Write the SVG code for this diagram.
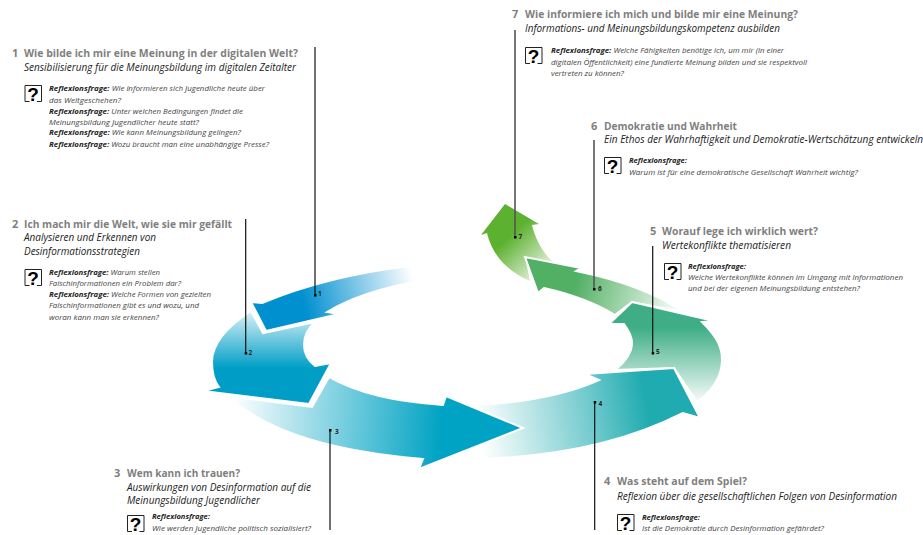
<svg xmlns="http://www.w3.org/2000/svg" xmlns:xlink="http://www.w3.org/1999/xlink" width="923" height="535" viewBox="0 0 923 535">
<style>
text{font-family:"Open Sans","Noto Sans","Liberation Sans",sans-serif}
.h{font-size:11px;font-weight:700;fill:#7f7f7f}
.s{font-size:10.3px;font-style:italic;fill:#222}
.r{font-size:7.6px;font-style:italic;fill:#444}
.r tspan{font-weight:700;fill:#222}
.n{font-size:6.5px;font-weight:700;fill:#222}
.q{font-family:"Liberation Sans",sans-serif;font-size:19px;font-weight:700;fill:#000;text-anchor:middle}
.box{fill:none;stroke:#222;stroke-width:1}
.a{stroke:#fff;stroke-width:2;stroke-linejoin:miter}
.l{fill:none;stroke:#111;stroke-width:1.2}
.g{stroke:#555;stroke-width:1.6}
.d{fill:#000}
</style>
<defs>
<linearGradient id="g1" gradientUnits="userSpaceOnUse" x1="303" y1="300" x2="412" y2="272"><stop offset="0" stop-color="#0090d0"/><stop offset="1" stop-color="#0090d0" stop-opacity="0"/></linearGradient>
<linearGradient id="g2" gradientUnits="userSpaceOnUse" x1="0" y1="368" x2="0" y2="306"><stop offset="0" stop-color="#009ec6"/><stop offset="1" stop-color="#009ec6" stop-opacity=".06"/></linearGradient>
<linearGradient id="g3" gradientUnits="userSpaceOnUse" x1="441" y1="425" x2="232" y2="410"><stop offset="0" stop-color="#00a3c3"/><stop offset="1" stop-color="#00a3c3" stop-opacity="0"/></linearGradient>
<linearGradient id="g4" gradientUnits="userSpaceOnUse" x1="645" y1="395" x2="478" y2="425"><stop offset="0" stop-color="#1fabb0"/><stop offset=".35" stop-color="#1fabb0" stop-opacity=".62"/><stop offset="1" stop-color="#1fabb0" stop-opacity="0"/></linearGradient>
<linearGradient id="g5" gradientUnits="userSpaceOnUse" x1="0" y1="328" x2="0" y2="405"><stop offset="0" stop-color="#3fae87"/><stop offset="1" stop-color="#3fae87" stop-opacity="0"/></linearGradient>
<linearGradient id="g6" gradientUnits="userSpaceOnUse" x1="578" y1="275" x2="683" y2="306"><stop offset="0" stop-color="#52b064"/><stop offset="1" stop-color="#52b064" stop-opacity="0"/></linearGradient>
<linearGradient id="g7" gradientUnits="userSpaceOnUse" x1="507" y1="239" x2="548" y2="283"><stop offset="0" stop-color="#5db130"/><stop offset="1" stop-color="#5db130" stop-opacity="0"/></linearGradient>
<path id="ib" class="box" d="M5 16.5H.5V.5H17V16.5H12.5"/>
</defs>

<g id="cycle">
<path id="arrow7" fill="url(#g7)" d="M505 204L481 235L487 233C492 255 508 272 530 281L525 257L553 262C542 252 535 238 532 225L539 224Z"/>
<path id="arrow6" class="a" fill="url(#g6)" d="M525 257L538 293L544 288C575 295 597 304 615 315L632 302L683 312C655 292 620 280 576 271L581 268Z"/>
<path id="arrow5" class="a" fill="url(#g5)" d="M632 302L609 324H624C630 332 632 338 632 343C632 352 625 362 615 370L674 368L697 402C710 393 722 378 722 360C722 345 715 335 702 322L714 321Z"/>
<path id="arrow4" class="a" fill="url(#g4)" d="M674 368L585 374L599 380C570 393 530 402 477 405L470 459C550 458 620 445 683 413L700 418Z"/>
<path id="arrow3" class="a" fill="url(#g3)" d="M523 428L446 396L443 405C395 402 355 392 329 377L312 407L228 396C270 435 340 452 423 459L419 469Z"/>
<path id="arrow2" class="a" fill="url(#g2)" d="M331 363L315 366C305 358 304 350 304 345C304 335 308 328 315 322L263 333L251 311C225 328 212 345 212 362C212 372 215 382 219 387L203 391L309 404Z"/>
<path id="arrow1" class="a" fill="url(#g1)" d="M251 302L266 331L339 314L327 312C352 297 385 287 420 281L410 266C360 272 310 283 262 303Z"/>
</g>

<g id="connectors">
<path class="l" d="M315 47V295"/><rect class="d" x="314" y="294" width="2.5" height="2.5"/>
<path class="l" d="M245.7 219V353"/><rect class="d" x="244.7" y="352" width="2.5" height="2.5"/>
<path class="l" d="M330 429V530"/><rect class="d" x="329" y="429" width="2.5" height="2.5"/>
<path class="l" d="M594.7 401V530"/><rect class="d" x="593.7" y="401" width="2.5" height="2.5"/>
<path class="l" d="M652.7 246V353"/><rect class="d" x="651.7" y="352" width="2.5" height="2.5"/>
<path class="l g" d="M594 140V289"/><rect class="d" x="593" y="288" width="2.5" height="2.5"/>
<path class="l g" d="M515 30V237"/><rect class="d" x="514" y="236" width="2.5" height="2.5"/>
</g>

<g id="node1">
<text class="h" x="12" y="57">1</text>
<text class="h" x="24" y="57" textLength="274" lengthAdjust="spacingAndGlyphs">Wie bilde ich mir eine Meinung in der digitalen Welt?</text>
<text class="s" x="24" y="70.5" textLength="272" lengthAdjust="spacingAndGlyphs">Sensibilisierung für die Meinungsbildung im digitalen Zeitalter</text>
<use href="#ib" x="24.5" y="85"/><text class="q" x="33" y="101">?</text>
<text class="r" x="49" y="91" textLength="216" lengthAdjust="spacingAndGlyphs"><tspan>Reflexionsfrage:</tspan> Wie informieren sich Jugendliche heute über</text>
<text class="r" x="49" y="102.5" textLength="72" lengthAdjust="spacingAndGlyphs">das Weltgeschehen?</text>
<text class="r" x="49" y="113.5" textLength="194" lengthAdjust="spacingAndGlyphs"><tspan>Reflexionsfrage:</tspan> Unter welchen Bedingungen findet die</text>
<text class="r" x="49" y="124.5" textLength="150" lengthAdjust="spacingAndGlyphs">Meinungsbildung Jugendlicher heute statt?</text>
<text class="r" x="49" y="135" textLength="192" lengthAdjust="spacingAndGlyphs"><tspan>Reflexionsfrage:</tspan> Wie kann Meinungsbildung gelingen?</text>
<text class="r" x="49" y="146.5" textLength="220" lengthAdjust="spacingAndGlyphs"><tspan>Reflexionsfrage:</tspan> Wozu braucht man eine unabhängige Presse?</text>
<text class="n" x="318" y="295.5">1</text>
</g>

<g id="node2">
<text class="h" x="12" y="227.5">2</text>
<text class="h" x="24" y="227.5" textLength="208" lengthAdjust="spacingAndGlyphs">Ich mach mir die Welt, wie sie mir gefällt</text>
<text class="s" x="24" y="241" textLength="132" lengthAdjust="spacingAndGlyphs">Analysieren und Erkennen von</text>
<text class="s" x="24" y="255" textLength="116" lengthAdjust="spacingAndGlyphs">Desinformationsstrategien</text>
<use href="#ib" x="24.5" y="269"/><text class="q" x="33" y="285">?</text>
<text class="r" x="49" y="274.5" textLength="111" lengthAdjust="spacingAndGlyphs"><tspan>Reflexionsfrage:</tspan> Warum stellen</text>
<text class="r" x="49" y="285.5" textLength="132" lengthAdjust="spacingAndGlyphs">Falschinformationen ein Problem dar?</text>
<text class="r" x="49" y="297" textLength="162" lengthAdjust="spacingAndGlyphs"><tspan>Reflexionsfrage:</tspan> Welche Formen von gezielten</text>
<text class="r" x="49" y="308" textLength="150" lengthAdjust="spacingAndGlyphs">Falschinformationen gibt es und wozu, und</text>
<text class="r" x="49" y="319.5" textLength="110" lengthAdjust="spacingAndGlyphs">woran kann man sie erkennen?</text>
<text class="n" x="248.5" y="354.5">2</text>
</g>

<g id="node3">
<text class="h" x="114" y="477">3</text>
<text class="h" x="127" y="477" textLength="113" lengthAdjust="spacingAndGlyphs">Wem kann ich trauen?</text>
<text class="s" x="127" y="491" textLength="184" lengthAdjust="spacingAndGlyphs">Auswirkungen von Desinformation auf die</text>
<text class="s" x="127" y="503.5" textLength="133" lengthAdjust="spacingAndGlyphs">Meinungsbildung Jugendlicher</text>
<use href="#ib" x="127" y="515"/><text class="q" x="135.5" y="531">?</text>
<text class="r" x="152" y="519" textLength="58" lengthAdjust="spacingAndGlyphs"><tspan>Reflexionsfrage:</tspan></text>
<text class="r" x="152" y="530.5" textLength="159" lengthAdjust="spacingAndGlyphs">Wie werden Jugendliche politisch sozialisiert?</text>
<text class="n" x="335" y="433.5">3</text>
</g>

<g id="node4">
<text class="h" x="604" y="485">4</text>
<text class="h" x="617" y="485" textLength="130" lengthAdjust="spacingAndGlyphs">Was steht auf dem Spiel?</text>
<text class="s" x="617" y="499.5" textLength="280" lengthAdjust="spacingAndGlyphs">Reflexion über die gesellschaftlichen Folgen von Desinformation</text>
<use href="#ib" x="617" y="514"/><text class="q" x="625.5" y="530">?</text>
<text class="r" x="642" y="519.5" textLength="58" lengthAdjust="spacingAndGlyphs"><tspan>Reflexionsfrage:</tspan></text>
<text class="r" x="642" y="531" textLength="182" lengthAdjust="spacingAndGlyphs">Ist die Demokratie durch Desinformation gefährdet?</text>
<text class="n" x="598.5" y="405.5">4</text>
</g>

<g id="node5">
<text class="h" x="650" y="235">5</text>
<text class="h" x="662" y="235" textLength="156" lengthAdjust="spacingAndGlyphs">Worauf lege ich wirklich wert?</text>
<text class="s" x="662" y="248.5" textLength="129" lengthAdjust="spacingAndGlyphs">Wertekonflikte thematisieren</text>
<use href="#ib" x="664" y="263"/><text class="q" x="672.5" y="279">?</text>
<text class="r" x="688" y="269" textLength="58" lengthAdjust="spacingAndGlyphs"><tspan>Reflexionsfrage:</tspan></text>
<text class="r" x="688" y="280" textLength="215" lengthAdjust="spacingAndGlyphs">Welche Wertekonflikte können im Umgang mit Informationen</text>
<text class="r" x="688" y="291" textLength="172" lengthAdjust="spacingAndGlyphs">und bei der eigenen Meinungsbildung entstehen?</text>
<text class="n" x="656" y="354">5</text>
</g>

<g id="node6">
<text class="h" x="591" y="130">6</text>
<text class="h" x="604" y="130" textLength="133" lengthAdjust="spacingAndGlyphs">Demokratie und Wahrheit</text>
<text class="s" x="604" y="143" textLength="319" lengthAdjust="spacingAndGlyphs">Ein Ethos der Wahrhaftigkeit und Demokratie-Wertschätzung entwickeln</text>
<use href="#ib" x="604" y="157"/><text class="q" x="612.5" y="173">?</text>
<text class="r" x="629" y="163" textLength="58" lengthAdjust="spacingAndGlyphs"><tspan>Reflexionsfrage:</tspan></text>
<text class="r" x="629" y="175" textLength="229" lengthAdjust="spacingAndGlyphs">Warum ist für eine demokratische Gesellschaft Wahrheit wichtig?</text>
<text class="n" x="598" y="291">6</text>
</g>

<g id="node7">
<text class="h" x="512" y="18">7</text>
<text class="h" x="525" y="18" textLength="273" lengthAdjust="spacingAndGlyphs">Wie informiere ich mich und bilde mir eine Meinung?</text>
<text class="s" x="525" y="32" textLength="255" lengthAdjust="spacingAndGlyphs">Informations- und Meinungsbildungskompetenz ausbilden</text>
<use href="#ib" x="525" y="47"/><text class="q" x="533.5" y="63">?</text>
<text class="r" x="551" y="53" textLength="233" lengthAdjust="spacingAndGlyphs"><tspan>Reflexionsfrage:</tspan> Welche Fähigkeiten benötige ich, um mir (in einer</text>
<text class="r" x="551" y="64.5" textLength="256" lengthAdjust="spacingAndGlyphs">digitalen Öffentlichkeit) eine fundierte Meinung bilden und sie respektvoll</text>
<text class="r" x="551" y="76" textLength="73" lengthAdjust="spacingAndGlyphs">vertreten zu können?</text>
<text class="n" x="518.5" y="238.5">7</text>
</g>
</svg>
